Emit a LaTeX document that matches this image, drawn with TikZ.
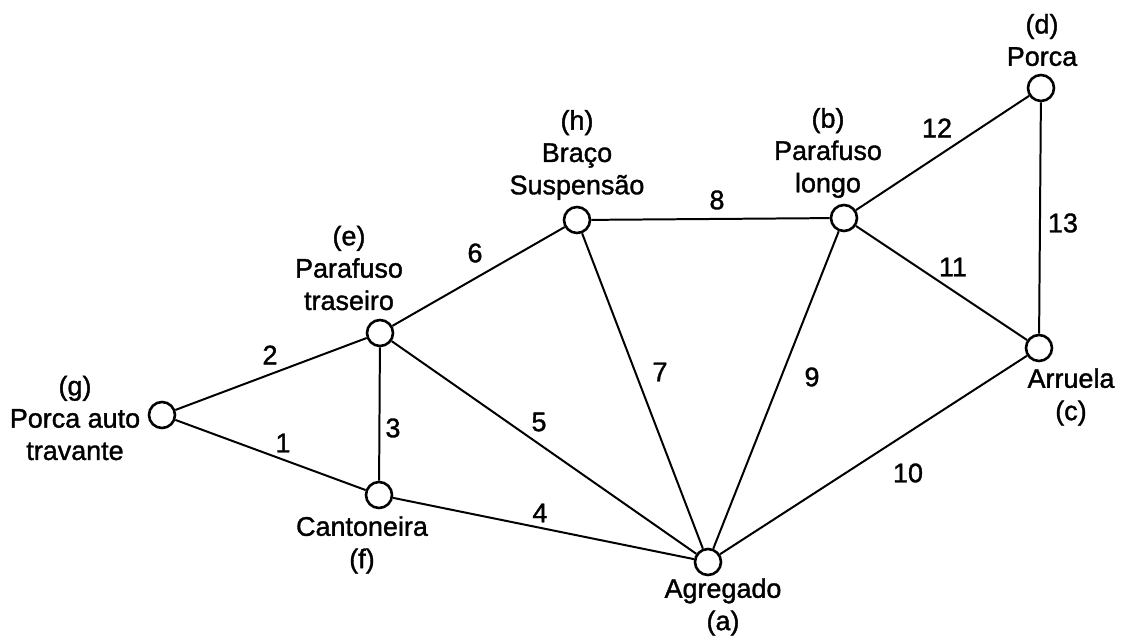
\documentclass[tikz,border=0pt]{standalone}
\usepackage{fontspec}
\setmainfont{Liberation Sans}
\newfontfamily\diagfont{Liberation Sans}[FakeBold=1.3]
\usetikzlibrary{positioning,calc}

\begin{document}
\begin{tikzpicture}[x=0.015cm,y=-0.015cm,
    part/.style={draw,circle,fill=white,line width=1.1pt,minimum size=0.39cm,inner sep=0pt},
    txt/.style={align=center,inner sep=0pt,font=\diagfont\fontsize{11.5}{13.8}\selectfont},
    num/.style={inner sep=0pt,font=\diagfont\fontsize{11.5}{13.8}\selectfont}]
  \useasboundingbox (0,0) rectangle (1125,640);

  \node[part] (a) at (708,562) {};
  \node[part] (b) at (844,218) {};
  \node[part] (c) at (1039,348) {};
  \node[part] (d) at (1041,88) {};
  \node[part] (e) at (380,333) {};
  \node[part] (f) at (379,495) {};
  \node[part] (g) at (162,415) {};
  \node[part] (h) at (577,220) {};

  \node[txt] (a-txt) at (723,607) {Agregado\\(a)};
  \node[txt] (b-txt) at (828,153) {(b)\\Parafuso\\longo};
  \node[txt] (c-txt) at (1071,397) {Arruela\\(c)};
  \node[txt] (d-txt) at (1042,40) {(d)\\Porca};
  \node[txt] (e-txt) at (349,268) {(e)\\Parafuso\\traseiro};
  \node[txt] (f-txt) at (362,545) {Cantoneira\\(f)};
  \node[txt] (g-txt) at (75,418) {(g)\\Porca auto\\travante};
  \node[txt] (h-txt) at (577,155) {(h)\\Braço\\Suspensão};

  \foreach \u/\v/\n/\dx/\dy in {g/f/1/12.5/-12, g/e/2/-1/-19, e/f/3/13.5/14,
      f/a/4/-3.5/-15.5, e/a/5/-5/-25.5, e/h/6/-3.5/-23.5, h/a/7/17.5/-19,
      h/b/8/6.5/-19, b/a/9/36/-13, c/a/10/34.5/18, b/c/11/11.5/-16,
      b/d/12/-5.5/-25, d/c/13/23/5}{
    \draw[line width=0.85pt] (\u) -- node[num,pos=0.5,shift={(\dx,\dy)}] {\n} (\v);
  }
\end{tikzpicture}
\end{document}
